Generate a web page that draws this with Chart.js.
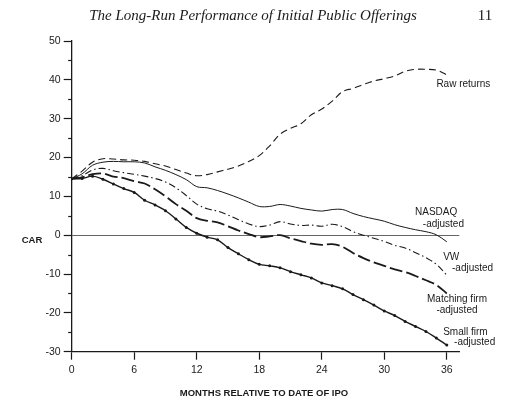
<!DOCTYPE html>
<html>
<head>
<meta charset="utf-8">
<script src="https://cdn.jsdelivr.net/npm/chart.js@4.4.0/dist/chart.umd.min.js"></script>
<style>
  html, body { margin: 0; padding: 0; background: #fff; }
  #wrap { width: 520px; height: 405px; }
</style>
</head>
<body>
<div id="wrap"><canvas id="carChart" width="520" height="405"></canvas></div>
<script>
// months after the IPO, 0..36
var months = [0, 1, 2, 3, 4, 5, 6, 7, 8, 9, 10, 11, 12, 13, 14, 15, 16, 17, 18,
    19, 20, 21, 22, 23, 24, 25, 26, 27, 28, 29, 30, 31, 32, 33, 34, 35, 36];

// cumulative average returns (%)
var rawReturns = [14.5, 16.5, 18.8, 19.7, 19.6, 19.4, 19.3, 19.0, 18.4, 17.8, 16.9, 16.0, 15.3,
    15.6, 16.3, 17.0, 17.8, 19.0, 20.5, 23.0, 26.0, 27.5, 28.7, 31.0, 32.5, 34.5, 37.0,
    37.8, 38.8, 39.7, 40.3, 41.0, 42.2, 42.7, 42.7, 42.5, 41.3];
var nasdaqAdj = [14.5, 15.8, 18.0, 18.8, 19.0, 18.9, 18.9, 18.6, 17.6, 16.7, 15.6, 14.3, 12.5,
    12.2, 11.5, 10.6, 9.6, 8.5, 7.4, 7.4, 7.9, 7.5, 6.9, 6.5, 6.2, 6.6, 6.6,
    5.6, 4.8, 4.2, 3.6, 2.7, 2.0, 1.4, 0.9, 0.1, -1.7];
var vwAdj = [14.5, 15.3, 16.8, 17.2, 16.6, 16.1, 15.7, 15.2, 14.6, 13.7, 12.2, 10.2, 8.0,
    6.8, 6.2, 5.2, 4.0, 2.9, 2.2, 2.6, 3.5, 2.9, 2.5, 2.6, 2.3, 2.8, 2.2,
    0.9, 0.0, -0.8, -1.6, -2.6, -3.3, -4.5, -5.8, -7.5, -10.3];
var matchingAdj = [14.5, 14.9, 15.7, 15.9, 15.1, 14.7, 13.9, 13.3, 11.8, 10.0, 8.0, 6.3, 4.4,
    3.7, 3.3, 2.3, 1.2, 0.3, -0.5, -0.3, 0.0, -0.8, -1.5, -2.2, -2.5, -2.3, -3.0,
    -4.6, -5.9, -7.0, -7.9, -8.8, -9.5, -10.5, -11.6, -12.8, -15.0];
var smallFirmAdj = [14.5, 14.6, 15.2, 14.4, 13.2, 12.0, 11.0, 9.0, 7.8, 6.3, 4.2, 2.0, 0.5,
    -0.5, -1.2, -3.2, -4.8, -6.3, -7.5, -7.9, -8.4, -9.4, -10.2, -11.0, -12.3, -13.0, -13.8,
    -15.3, -16.6, -18.0, -19.5, -20.7, -22.2, -23.5, -24.8, -26.5, -28.3];

// axis ticks
var xTicks = [0, 6, 12, 18, 24, 30, 36];
var yTicks = [-30, -25, -20, -15, -10, -5, 0, 5, 10, 15, 20, 25, 30, 35, 40, 45, 50];

// line labels, anchored in data units
var seriesLabels = [
    { text: 'Raw returns', m: 35.0, v: 38.8 },
    { text: 'NASDAQ', m: 32.95, v: 5.8 },
    { text: '-adjusted', m: 33.7, v: 2.9 },
    { text: 'VW', m: 35.65, v: -5.6 },
    { text: '-adjusted', m: 36.5, v: -8.4 },
    { text: 'Matching firm', m: 34.1, v: -16.6 },
    { text: '-adjusted', m: 35.0, v: -19.2 },
    { text: 'Small firm', m: 35.65, v: -24.9 },
    { text: '-adjusted', m: 36.7, v: -27.5 }
];

var ink = '#1a1a1a';

function pts(values) {
    return values.map(function (v, i) { return { x: months[i], y: v }; });
}

// header, axis captions, line labels and the short minor ticks
var annotate = {
    id: 'annotate',
    afterDraw: function (chart) {
        var ctx = chart.ctx;
        var xs = chart.scales.x, ys = chart.scales.y;
        ctx.save();
        ctx.fillStyle = ink;
        ctx.textBaseline = 'middle';

        ctx.font = 'italic 15px "Liberation Serif", serif';
        ctx.textAlign = 'center';
        ctx.fillText('The Long-Run Performance of Initial Public Offerings', 253, 16);
        ctx.font = '15px "Liberation Serif", serif';
        ctx.fillText('11', 485, 16);

        ctx.font = 'bold 9.5px "Liberation Sans", Arial, sans-serif';
        ctx.fillText('CAR', 32, 240);
        ctx.fillText('MONTHS RELATIVE TO DATE OF IPO', 264, 393);

        ctx.font = '10px "Liberation Sans", Arial, sans-serif';
        ctx.textAlign = 'left';
        seriesLabels.forEach(function (l) {
            ctx.fillText(l.text, xs.getPixelForValue(l.m), ys.getPixelForValue(l.v));
        });

        // minor ticks on the CAR axis
        ctx.strokeStyle = ink;
        ctx.lineWidth = 1.2;
        yTicks.forEach(function (v) {
            if (v % 10 === 0) return;
            var py = Math.round(ys.getPixelForValue(v)) + 0.5;
            ctx.beginPath();
            ctx.moveTo(xs.left - 3.5, py);
            ctx.lineTo(xs.left, py);
            ctx.stroke();
        });
        ctx.restore();
    }
};

new Chart(document.getElementById('carChart'), {
    type: 'line',
    data: {
        datasets: [{
            label: 'Raw returns',
            data: pts(rawReturns),
            borderColor: ink,
            borderWidth: 1.1,
            borderDash: [7, 4],
            pointRadius: 0
        },
        {
            label: 'NASDAQ-adjusted',
            data: pts(nasdaqAdj),
            borderColor: ink,
            borderWidth: 1,
            pointRadius: 0
        },
        {
            label: 'VW-adjusted',
            data: pts(vwAdj),
            borderColor: ink,
            borderWidth: 1.1,
            borderDash: [7, 3, 1.5, 3],
            pointRadius: 0
        },
        {
            label: 'Matching firm-adjusted',
            data: pts(matchingAdj),
            borderColor: ink,
            borderWidth: 1.8,
            borderDash: [13, 4],
            pointRadius: 0
        },
        {
            label: 'Small firm-adjusted',
            data: pts(smallFirmAdj),
            borderColor: ink,
            borderWidth: 1.4,
            pointRadius: 1.5,
            pointBorderWidth: 0,
            pointBackgroundColor: ink
        }]
    },
    options: {
        responsive: false,
        animation: false,
        devicePixelRatio: 1,
        layout: { padding: { left: 0, top: 41, right: 60.7, bottom: 0 } },
        elements: { line: { tension: 0.35 } },
        plugins: {
            legend: { display: false },
            tooltip: { enabled: false }
        },
        scales: {
            x: {
                type: 'linear',
                min: 0,
                max: 37.2,
                afterBuildTicks: function (s) { s.ticks = xTicks.map(function (v) { return { value: v }; }); },
                afterFit: function (s) { s.height = 53.3; },
                border: { display: true, color: ink, width: 1.3 },
                grid: { drawOnChartArea: false, drawTicks: true, tickLength: 8, tickColor: ink, tickWidth: 1.2 },
                ticks: {
                    color: ink,
                    padding: 4,
                    maxRotation: 0,
                    font: { family: '"Liberation Sans", Arial, sans-serif', size: 10.5 }
                }
            },
            y: {
                min: -30,
                max: 50,
                afterBuildTicks: function (s) { s.ticks = yTicks.map(function (v) { return { value: v }; }); },
                afterFit: function (s) { s.width = 71.7; },
                border: { display: true, color: ink, width: 1.3 },
                grid: {
                    drawOnChartArea: true,
                    drawTicks: true,
                    tickLength: 8,
                    lineWidth: 1,
                    color: function (c) { return c.tick && c.tick.value === 0 ? '#666' : 'rgba(0,0,0,0)'; },
                    tickColor: function (c) { return c.tick && c.tick.value % 10 === 0 ? ink : 'rgba(0,0,0,0)'; },
                    tickWidth: 1.2
                },
                ticks: {
                    color: ink,
                    padding: 3,
                    autoSkip: false,
                    font: { family: '"Liberation Sans", Arial, sans-serif', size: 10.5 },
                    callback: function (v) { return v % 10 === 0 ? v : ''; }
                }
            }
        }
    },
    plugins: [annotate]
});
</script>
</body>
</html>
